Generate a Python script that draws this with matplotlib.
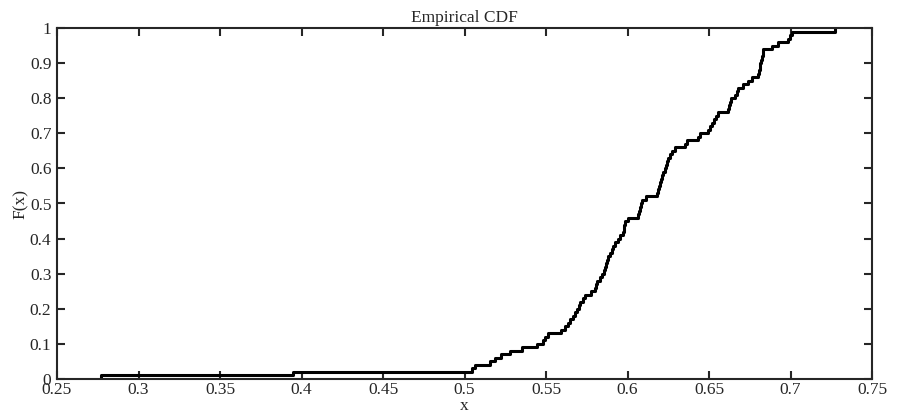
import matplotlib
matplotlib.use("Agg")
import matplotlib.pyplot as plt
from matplotlib.ticker import FormatStrFormatter
import numpy as np

# sorted sample values (one step = 1/100)
samples = [
    0.277, 0.395, 0.5044, 0.5064, 0.5156, 0.5190, 0.5225, 0.5280, 0.5355, 0.5447,
    0.5480, 0.5495, 0.5510, 0.5590, 0.5616, 0.5635, 0.5650, 0.5665, 0.5678, 0.5690,
    0.5700, 0.5709, 0.5729, 0.5740, 0.5775, 0.5800, 0.5805, 0.5811, 0.5830, 0.5842,
    0.5855, 0.5862, 0.5870, 0.5877, 0.5882, 0.5895, 0.5903, 0.5910, 0.5923, 0.5940,
    0.5954, 0.5974, 0.5978, 0.5980, 0.5985, 0.6005, 0.6066, 0.6072, 0.6077, 0.6082,
    0.6087, 0.6113, 0.6179, 0.6190, 0.6195, 0.6200, 0.6205, 0.6210, 0.6220, 0.6230,
    0.6235, 0.6240, 0.6250, 0.6260, 0.6271, 0.6291, 0.6355, 0.6363, 0.6434, 0.6445,
    0.6496, 0.6505, 0.6516, 0.6530, 0.6545, 0.6557, 0.6618, 0.6625, 0.6629, 0.6635,
    0.6660, 0.6670, 0.6680, 0.6710, 0.6742, 0.6762, 0.6802, 0.6806, 0.6810, 0.6813,
    0.6820, 0.6825, 0.6830, 0.6834, 0.6884, 0.6925, 0.6987, 0.6995, 0.7007, 0.7273,
]
x_ticks = [0.25, 0.3, 0.35, 0.4, 0.45, 0.5, 0.55, 0.6, 0.65, 0.7, 0.75]
y_ticks = [0, 0.1, 0.2, 0.3, 0.4, 0.5, 0.6, 0.7, 0.8, 0.9, 1]

n = len(samples)
xs = np.concatenate([[samples[0]], samples])
fs = np.concatenate([[0.0], np.arange(1, n + 1) / n])

plt.rcParams['font.family'] = ['Liberation Serif', 'DejaVu Serif']
fsize = 12.5

fig = plt.figure(figsize=(8.97, 4.19), dpi=100)
ax = fig.add_axes([57 / 897, 40 / 419, 815 / 897, 351 / 419])
ax.step(xs, fs, where='post', color='black', linewidth=2.2)

ax.set_xlim(0.25, 0.75)
ax.set_ylim(0, 1)
ax.set_xticks(x_ticks)
ax.set_yticks(y_ticks)
ax.xaxis.set_major_formatter(FormatStrFormatter('%g'))
ax.yaxis.set_major_formatter(FormatStrFormatter('%g'))
ax.tick_params(direction='in', top=True, right=True, length=6, width=1.5,
               labelsize=fsize, colors='#262626')
ax.tick_params(axis='x', pad=2)
ax.tick_params(axis='y', pad=4)
for s in ax.spines.values():
    s.set_linewidth(1.5)
    s.set_color('#262626')

ax.set_title("Empirical CDF", fontsize=fsize, pad=4, color='#262626')
ax.set_xlabel("x", fontsize=fsize, labelpad=0, color='#262626')
ax.set_ylabel("F(x)", fontsize=fsize, labelpad=1, color='#262626')

fig.savefig("out.png", dpi=100)
